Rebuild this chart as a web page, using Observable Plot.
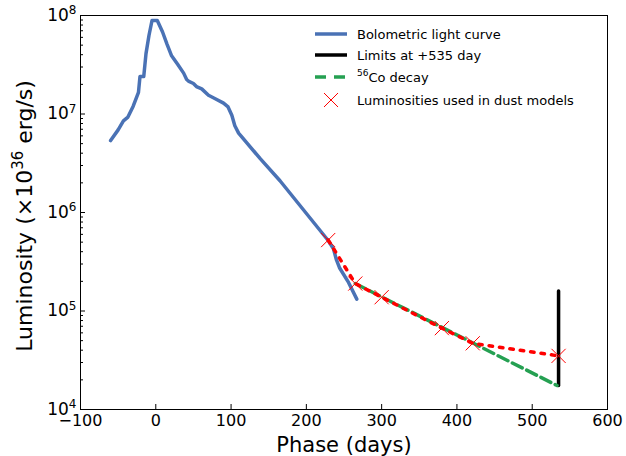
<!DOCTYPE html>
<html><head><meta charset="utf-8">
<script src="https://cdn.jsdelivr.net/npm/d3@7"></script>
<script src="https://cdn.jsdelivr.net/npm/@observablehq/plot@0.6"></script>
<style>body{margin:0;background:#fff;} svg{font-family:"DejaVu Sans",sans-serif;}</style>
</head><body><div id="chart"></div>
<script>
// Bolometric light curve (phase in days, luminosity in 1e36 erg/s)
const bolDays = [-60, -50, -43, -37, -30, -23, -21, -16, -13, -9, -5, 2, 9, 15, 21, 29, 37, 41, 44, 50, 54, 61, 70, 79, 90, 96, 101, 105, 110, 139, 165, 229, 236, 240, 244, 256, 267];
const bolLum  = [5.37e6, 6.9e6, 8.5e6, 9.3e6, 1.2e7, 1.66e7, 2.4e7, 2.4e7, 4.1e7, 6.3e7, 8.9e7, 8.9e7, 6.8e7, 5.1e7, 3.9e7, 3.2e7, 2.6e7, 2.24e7, 2.14e7, 2.04e7, 1.9e7, 1.8e7, 1.55e7, 1.43e7, 1.29e7, 1.18e7, 9.7e6, 7.6e6, 6.4e6, 3.5e6, 2.1e6, 5.2e5, 4.27e5, 3.3e5, 2.75e5, 1.95e5, 1.32e5];
// Luminosities used in dust models
const dustDays = [229, 265, 300, 380, 421, 535];
const dustLum  = [5.25e5, 1.9e5, 1.38e5, 6.7e4, 4.7e4, 3.5e4];
// 56Co decay line
const coDays = [265, 533];
const coLum  = [1.9e5, 1.75e4];
// Limits at +535 day
const limDays = [535, 535];
const limLum  = [1.6e5, 1.75e4];
// ticks
const xTicks = [-100, 0, 100, 200, 300, 400, 500, 600];
const yTicks = [1e4, 1e5, 1e6, 1e7, 1e8];
const yMinor = [2,3,4,5,6,7,8,9].flatMap(m => [1e4,1e5,1e6,1e7].map(d => m*d));
const legendLabels = ["Bolometric light curve", "Limits at +535 day", "Co decay", "Luminosities used in dust models"];

const blue = "#4a72b5", green = "#25a052";
const W = 626, H = 456, mL = 80, mR = 19, mT = 15, mB = 47;
const pw = W - mL - mR, ph = H - mT - mB;

const bol = bolDays.map((d, i) => ({d, L: bolLum[i]}));
const dust = dustDays.map((d, i) => ({d, L: dustLum[i]}));
const co = coDays.map((d, i) => ({d, L: coLum[i]}));
const lim = limDays.map((d, i) => ({d, L: limLum[i]}));

const plot = Plot.plot({
  width: W, height: H,
  marginLeft: mL, marginRight: mR, marginTop: mT, marginBottom: mB,
  style: {fontFamily: "DejaVu Sans", fontSize: "16px", background: "white"},
  x: {domain: [-100, 600], label: null},
  y: {type: "log", domain: [1e4, 1e8], label: null},
  marks: [
    Plot.line(bol, {x: "d", y: "L", stroke: blue, strokeWidth: 3.5, strokeLinejoin: "round"}),
    Plot.line(lim, {x: "d", y: "L", stroke: "black", strokeWidth: 3.5}),
    Plot.line(co, {x: "d", y: "L", stroke: green, strokeWidth: 3.5, strokeDasharray: "11,5"}),
    Plot.line(dust, {x: "d", y: "L", stroke: "red", strokeWidth: 3.5, strokeDasharray: "3.5,7"}),
    Plot.dot(dust, {x: "d", y: "L", symbol: "times", r: 6.5, stroke: "red", strokeWidth: 1}),
    Plot.ruleX(xTicks, {x: d => d, insetTop: ph - 5, stroke: "black"}),
    Plot.ruleY(yTicks, {y: d => d, insetRight: pw - 5, stroke: "black"}),
    Plot.ruleY(yMinor, {y: d => d, insetRight: pw - 3, stroke: "black"}),
    Plot.axisX(xTicks, {tickSize: 0, tickPadding: 5, fontSize: 16, label: null}),
    Plot.axisY(yTicks, {tickSize: 0, tickPadding: 4, fontSize: 17, label: null,
      tickFormat: d => "10^" + Math.round(Math.log10(d))}),
    Plot.frame({stroke: "black", strokeWidth: 1}),
    Plot.text(["Phase (days)"], {frameAnchor: "bottom", text: d => d, dy: 42, fontSize: 21, fill: "black"})
  ]
});
document.getElementById("chart").appendChild(plot);

const svg = d3.select(plot);
// y tick labels: 10 with superscript exponent
svg.selectAll('g[aria-label="y-axis tick label"] text').each(function() {
  const t = d3.select(this);
  const [base, exp] = t.text().split("^");
  t.text(null);
  t.append("tspan").text(base);
  t.append("tspan").attr("font-size", 12).attr("dy", "-0.55em").text(exp);
});
// y-axis label with superscript
const yl = svg.append("text")
  .attr("transform", `translate(24,${mT + ph / 2 + 4}) rotate(-90)`)
  .attr("text-anchor", "middle").attr("dy", "0.35em")
  .attr("font-size", 22).attr("fill", "black");
yl.append("tspan").text("Luminosity (×10");
yl.append("tspan").attr("font-size", 15).attr("dy", -9).text("36");
yl.append("tspan").attr("dy", 9).text(" erg/s)");

// legend
const lg = svg.append("g").attr("font-size", 13).attr("fill", "black").attr("text-anchor", "start");
const rowY = [34, 55, 77, 100];
const hx0 = 315, hx1 = 347, tx = 357;
lg.append("line").attr("x1", hx0).attr("x2", hx1).attr("y1", rowY[0]).attr("y2", rowY[0]).attr("stroke", blue).attr("stroke-width", 3.5);
lg.append("line").attr("x1", hx0).attr("x2", hx1).attr("y1", rowY[1]).attr("y2", rowY[1]).attr("stroke", "black").attr("stroke-width", 3.5);
lg.append("line").attr("x1", hx0).attr("x2", hx1).attr("y1", rowY[2]).attr("y2", rowY[2]).attr("stroke", green).attr("stroke-width", 3.5).attr("stroke-dasharray", "11,8");
const cx = (hx0 + hx1) / 2, s = 7;
lg.append("path").attr("d", `M${cx - s},${rowY[3] - s}L${cx + s},${rowY[3] + s}M${cx - s},${rowY[3] + s}L${cx + s},${rowY[3] - s}`).attr("stroke", "red").attr("stroke-width", 1).attr("fill", "none");
legendLabels.forEach((t, i) => {
  const te = lg.append("text").attr("x", tx).attr("y", rowY[i]).attr("dy", "0.35em").attr("text-anchor", "start");
  if (i === 2) {
    te.append("tspan").attr("font-size", 9).attr("dy", "-0.1em").text("56");
    te.append("tspan").attr("dy", "0.45em").text(t);
  } else te.text(t);
});
</script>
</body></html>
